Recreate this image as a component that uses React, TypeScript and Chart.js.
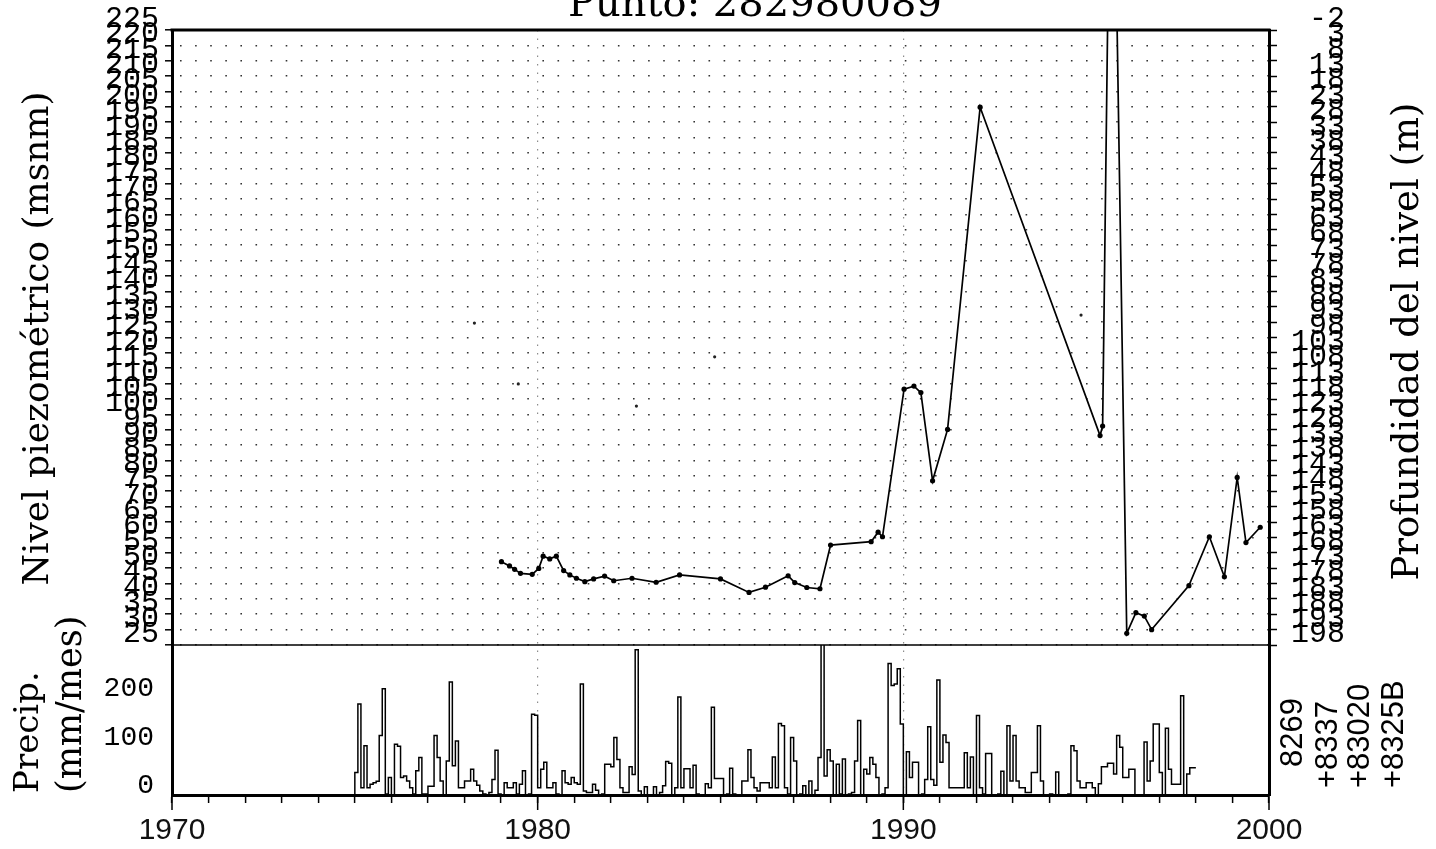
import React, { useEffect, useRef } from 'react';
import { Chart, registerables } from 'chart.js';

Chart.register(...registerables);

// ---------- text ----------
const titleText = 'Punto: 282980089';
const levelAxisTitle = 'Nivel piezométrico (msnm)';
const depthAxisTitle = 'Profundidad del nivel (m)';
const precipAxisTitle = ['Precip.', '(mm/mes)'];
const stationCodes = ['8269', '+8337', '+83020', '+8325B'];

// ---------- axes ----------
const xMin = 1970;
const xMax = 2000;
const levelMin = 25;
const levelMax = 225;
const levelStep = 5;
const groundElevation = 223; // depth label = groundElevation - level
const precipMax = 308;
const precipTicks = [0, 100, 200];

// ---------- piezometric level (msnm) ----------
const levelYears = [
  1979.01, 1979.23, 1979.37, 1979.53, 1979.85, 1980.03, 1980.15, 1980.33, 1980.51, 1980.71,
  1980.88, 1981.06, 1981.29, 1981.53, 1981.83, 1982.08, 1982.58, 1983.24, 1983.88, 1985.0,
  1985.78, 1986.23, 1986.85, 1987.03, 1987.36, 1987.72, 1988.01, 1989.12, 1989.31, 1989.43,
  1990.02, 1990.29, 1990.48, 1990.8, 1991.21, 1992.1, 1995.38, 1995.45, 1995.7, 1996.11,
  1996.36, 1996.59, 1996.79, 1997.81, 1998.37, 1998.78, 1999.13, 1999.37, 1999.76,
];
const levelValues = [
  52.1, 50.7, 49.6, 48.3, 48.0, 49.9, 53.9, 53.0, 53.9, 49.2,
  47.8, 46.7, 45.6, 46.5, 47.4, 45.9, 46.7, 45.4, 47.8, 46.5,
  42.1, 43.8, 47.5, 45.3, 43.7, 43.3, 57.5, 58.6, 61.7, 60.2,
  108.2, 109.2, 107.1, 78.4, 95.1, 199.9, 93.1, 96.2, 335, 28.8,
  35.5, 34.4, 30.0, 44.3, 60.2, 47.2, 79.5, 58.3, 63.3,
];

// isolated (unconnected) readings
const isolatedYears = [1978.27, 1979.47, 1982.7, 1984.84, 1994.86];
const isolatedValues = [129.7, 109.9, 102.7, 118.7, 132.3];

// ---------- monthly precipitation (mm/mes), Jan 1975 .. Dec 1997 ----------
const precipStartYear = 1975;
const precipMonthly = [
  2, 46, 187, 15, 101, 15, 22, 25, 28, 122, 218, 2, // 1975
  36, 0, 104, 100, 36, 39, 29, 15, 2, 50, 77, 2, // 1976
  2, 18, 18, 122, 77, 29, 0, 70, 232, 60, 111, 15, // 1977
  15, 29, 29, 53, 29, 20, 8, 2, 0, 5, 32, 92, // 1978
  2, 0, 25, 15, 15, 25, 2, 22, 50, 0, 2, 166, // 1979
  164, 15, 53, 67, 15, 15, 25, 2, 0, 50, 25, 22, // 1980
  36, 25, 22, 228, 8, 5, 5, 22, 10, 0, 2, 63, // 1981
  63, 58, 118, 73, 15, 5, 5, 58, 42, 298, 8, 0, // 1982
  17, 0, 0, 17, 0, 5, 19, 69, 65, 0, 15, 201, // 1983
  15, 54, 54, 15, 61, 2, 0, 0, 23, 15, 180, 34, // 1984
  34, 34, 0, 2, 55, 2, 0, 0, 29, 29, 93, 36, // 1985
  15, 8, 25, 25, 25, 15, 78, 15, 147, 142, 15, 2, // 1986
  118, 70, 0, 2, 19, 0, 29, 0, 10, 77, 330, 39, // 1987
  93, 70, 0, 63, 2, 74, 0, 2, 5, 70, 153, 0, // 1988
  53, 43, 77, 63, 36, 0, 2, 15, 270, 225, 228, 259, // 1989
  146, 0, 89, 36, 67, 67, 0, 2, 32, 140, 32, 20, // 1990
  236, 67, 123, 108, 15, 15, 15, 15, 15, 87, 15, 78, // 1991
  0, 163, 15, 2, 85, 85, 0, 0, 2, 49, 0, 142, // 1992
  29, 122, 29, 15, 15, 5, 5, 46, 46, 142, 29, 0, // 1993
  0, 2, 0, 47, 0, 0, 0, 2, 101, 91, 29, 15, // 1994
  15, 25, 25, 15, 0, 23, 58, 58, 65, 65, 43, 122, // 1995
  98, 36, 36, 53, 53, 0, 0, 0, 109, 29, 70, 146, // 1996
  146, 46, 0, 137, 53, 22, 22, 22, 204, 0, 43, 56, // 1997
];

const SERIF = '"DejaVu Serif", "Liberation Serif", serif';
const MONO = '"Liberation Mono", "DejaVu Sans Mono", monospace';
const SANS = '"Liberation Sans", "DejaVu Sans", sans-serif';

function drawRotated(ctx: CanvasRenderingContext2D, text: string, x: number, y: number, align: CanvasTextAlign) {
  ctx.save();
  ctx.translate(x, y);
  ctx.rotate(-Math.PI / 2);
  ctx.textAlign = align;
  ctx.textBaseline = 'alphabetic';
  ctx.fillText(text, 0, 0);
  ctx.restore();
}

const decorPlugin = {
  id: 'decor',
  afterDraw(chart: any) {
    const ctx: CanvasRenderingContext2D = chart.ctx;
    const area = chart.chartArea;
    const yLevel = chart.scales.yLevel;
    const x = chart.scales.x;
    ctx.save();
    ctx.strokeStyle = '#000';
    ctx.fillStyle = '#000';
    // top frame
    ctx.lineWidth = 3;
    ctx.beginPath();
    ctx.moveTo(area.left - 1.5, area.top);
    ctx.lineTo(area.right + 1.5, area.top);
    ctx.stroke();
    // panel separator
    ctx.lineWidth = 1.5;
    ctx.beginPath();
    ctx.moveTo(area.left, yLevel.bottom);
    ctx.lineTo(area.right, yLevel.bottom);
    ctx.stroke();
    // longer decade ticks
    ctx.lineWidth = 1.5;
    for (let d = xMin; d <= xMax; d += 10) {
      const px = x.getPixelForValue(d);
      ctx.beginPath();
      ctx.moveTo(px, area.bottom);
      ctx.lineTo(px, area.bottom + 15);
      ctx.stroke();
    }
    // title (partially cut off at top)
    ctx.font = `40px ${SERIF}`;
    ctx.textAlign = 'center';
    ctx.textBaseline = 'alphabetic';
    ctx.fillText(titleText, 755, 16);
    // axis titles
    ctx.font = `36px ${SERIF}`;
    drawRotated(ctx, levelAxisTitle, 48, (area.top + yLevel.bottom) / 2 + 1, 'center');
    ctx.font = `37px ${SERIF}`;
    drawRotated(ctx, depthAxisTitle, 1418, (area.top + yLevel.bottom) / 2 + 4, 'center');
    ctx.font = `34px ${SERIF}`;
    drawRotated(ctx, precipAxisTitle[0], 38, 793, 'left');
    ctx.font = `35px ${SERIF}`;
    drawRotated(ctx, precipAxisTitle[1], 81, 793, 'left');
    // station codes
    ctx.font = `31px ${SANS}`;
    const codeX = [1302, 1337, 1369, 1403];
    const codeY = [767, 788, 788, 788];
    stationCodes.forEach((c, i) => drawRotated(ctx, c, codeX[i], codeY[i], 'left'));
    ctx.restore();
  },
};

export default function App() {
  const canvasRef = useRef<HTMLCanvasElement | null>(null);

  useEffect(() => {
    const canvas = canvasRef.current;
    if (!canvas) return;

    const levelData = levelYears.map((yr, i) => ({ x: yr, y: levelValues[i] }));
    const isolatedData = isolatedYears.map((yr, i) => ({ x: yr, y: isolatedValues[i] }));
    const precipData = precipMonthly.map((v, i) => ({ x: precipStartYear + i / 12, y: v }));
    precipData.push({
      x: precipStartYear + precipMonthly.length / 12,
      y: precipMonthly[precipMonthly.length - 1],
    });

    const chart = new Chart(canvas, {
      type: 'line',
      data: {
        datasets: [
          {
            label: 'Precipitación',
            data: precipData,
            xAxisID: 'x',
            yAxisID: 'yPrecip',
            stepped: 'after',
            borderColor: '#000',
            borderWidth: 1.5,
            pointRadius: 0,
            fill: false,
          },
          {
            label: 'Nivel piezométrico',
            data: levelData,
            xAxisID: 'x',
            yAxisID: 'yLevel',
            borderColor: '#000',
            borderWidth: 1.7,
            pointRadius: 2.6,
            pointBackgroundColor: '#000',
            pointBorderWidth: 0,
            tension: 0,
            fill: false,
          },
          {
            label: 'Lecturas aisladas',
            data: isolatedData,
            xAxisID: 'x',
            yAxisID: 'yLevel',
            showLine: false,
            pointRadius: 1.6,
            pointBackgroundColor: '#222',
            pointBorderWidth: 0,
          },
        ],
      },
      options: {
        responsive: false,
        animation: false,
        events: [],
        layout: { padding: { top: 30, right: 91, bottom: 0, left: 0 } },
        plugins: { legend: { display: false }, tooltip: { enabled: false }, title: { display: false } },
        scales: {
          x: {
            type: 'linear',
            position: 'bottom',
            min: xMin,
            max: xMax,
            afterFit: (s: any) => { s.height = 54; },
            ticks: {
              stepSize: 1,
              autoSkip: false,
              maxRotation: 0,
              padding: 10,
              color: '#111',
              font: { family: SANS, size: 30 },
              callback: (v: any) => (Number(v) % 10 === 0 ? String(v) : ''),
            },
            grid: {
              drawOnChartArea: true,
              color: (c: any) => (c.tick && Number(c.tick.value) % 10 === 0 ? 'rgba(0,0,0,0.45)' : 'rgba(0,0,0,0)'),
              lineWidth: 1.2,
              drawTicks: true,
              tickLength: 8,
              tickColor: '#000',
              tickWidth: 1.5,
              tickBorderDash: [],
            },
            border: { display: true, color: '#000', width: 3, dash: [1.5, 7] },
          },
          yLevel: {
            type: 'linear',
            position: 'left',
            stack: 'left',
            stackWeight: 615,
            weight: 1,
            min: levelMin,
            max: levelMax,
            afterFit: (s: any) => { s.width = 172; },
            ticks: {
              stepSize: levelStep,
              autoSkip: false,
              maxTicksLimit: 100,
              padding: 6,
              labelOffset: -11,
              color: '#000',
              font: { family: MONO, size: 30 },
            },
            grid: {
              color: '#333',
              lineWidth: 1.6,
              drawTicks: true,
              tickLength: 7,
              tickColor: '#000',
              tickWidth: 1.5,
              tickBorderDash: [],
            },
            border: { display: true, color: '#000', width: 3, dash: [1.6, 13.5], dashOffset: 9.1 },
          },
          yPrecip: {
            type: 'linear',
            position: 'left',
            stack: 'left',
            stackWeight: 150,
            weight: 0,
            min: 0,
            max: precipMax,
            afterFit: (s: any) => { s.width = 172; },
            afterBuildTicks: (s: any) => { s.ticks = precipTicks.map((v) => ({ value: v })); },
            ticks: {
              autoSkip: false,
              padding: 10,
              labelOffset: -9,
              color: '#000',
              font: { family: MONO, size: 28 },
              callback: (v: any) => String(v),
            },
            grid: { display: false },
            border: { display: true, color: '#000', width: 3 },
          },
          yDepth: {
            type: 'linear',
            position: 'right',
            stack: 'right',
            stackWeight: 615,
            weight: 0,
            min: levelMin,
            max: levelMax,
            afterFit: (s: any) => { s.width = 76; },
            ticks: {
              stepSize: levelStep,
              autoSkip: false,
              maxTicksLimit: 100,
              crossAlign: 'far',
              labelOffset: -11,
              color: '#000',
              font: { family: MONO, size: 30 },
              callback: (v: any) => String(groundElevation - Number(v)),
            },
            grid: {
              drawOnChartArea: false,
              drawTicks: true,
              tickLength: 8,
              tickColor: '#000',
              tickWidth: 1.5,
            },
            border: { display: true, color: '#000', width: 3 },
          },
          yRight: {
            type: 'linear',
            position: 'right',
            stack: 'right',
            stackWeight: 150,
            weight: 1,
            min: 0,
            max: precipMax,
            afterFit: (s: any) => { s.width = 76; },
            ticks: { display: false },
            grid: { display: false },
            border: { display: true, color: '#000', width: 3 },
          },
        },
      } as any,
      plugins: [decorPlugin],
    });

    return () => chart.destroy();
  }, []);

  return (
    <div style={{ position: 'absolute', left: 0, top: 0, width: 1436, height: 849, background: '#fff' }}>
      <canvas ref={canvasRef} width={1436} height={849} style={{ display: 'block' }} />
    </div>
  );
}
